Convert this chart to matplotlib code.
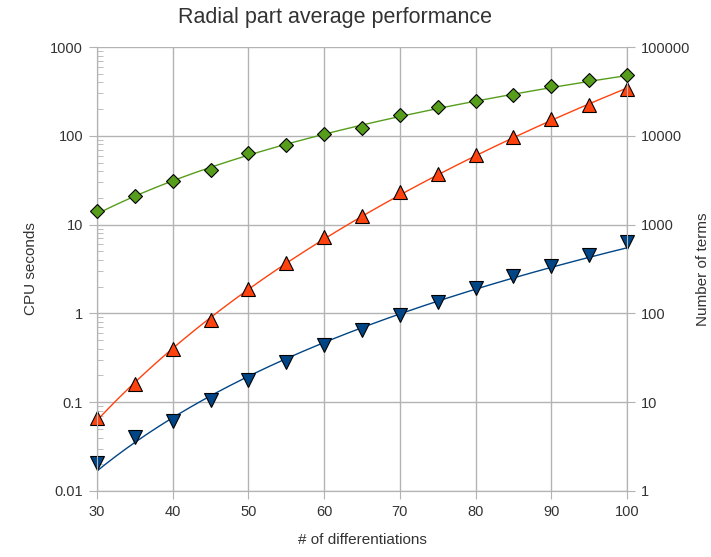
import numpy as np
import matplotlib
matplotlib.use("Agg")
import matplotlib.pyplot as plt
from matplotlib.ticker import LogLocator, FixedLocator, NullLocator, NullFormatter

plt.rcParams['font.family'] = ['Liberation Sans', 'DejaVu Sans']

# differentiations
x = [30, 35, 40, 45, 50, 55, 60, 65, 70, 75, 80, 85, 90, 95, 100]

# CPU seconds (left axis)
cpu_up = [0.067, 0.159, 0.393, 0.834, 1.86, 3.66, 7.17, 12.4, 23.0, 36.8, 60.1, 95.9, 153, 220, 333]
cpu_down = [0.0205, 0.0402, 0.0608, 0.105, 0.176, 0.281, 0.436, 0.644, 0.95, 1.36, 1.91, 2.61, 3.38, 4.50, 6.31]
# number of terms (right axis)
terms = [1410, 2080, 3060, 4080, 6340, 7800, 10400, 12400, 17000, 20900, 24400, 28500, 36000, 42100, 47900]

green = '#579d1c'
orange = '#ff420e'
blue = '#004586'
grid_c = '#b3b3b3'
txt = '#333333'

fig = plt.figure(figsize=(7.11, 5.57), dpi=100)
ax = fig.add_axes([0.1364, 0.1185, 0.7455, 0.7971])
ax2 = ax.twinx()

ax.set_xlim(30, 100)
ax.set_yscale('log')
ax.set_ylim(0.01, 1000)
ax2.set_yscale('log')
ax2.set_ylim(1, 100000)

# trend lines (fit in log-log)
xs = np.linspace(30, 100, 200)
lx = np.log10(x)
def trend(vals, deg):
    p = np.polyfit(lx, np.log10(vals), deg)
    return 10 ** np.polyval(p, np.log10(xs))

ax.plot(xs, trend(cpu_up, 2), color=orange, lw=1, zorder=3)
ax.plot(xs, trend(cpu_down, 1), color=blue, lw=1, zorder=3)
ax2.plot(xs, trend(terms, 1), color=green, lw=1, zorder=3)

ax.plot(x, cpu_up, ls='none', marker='^', ms=10, mfc=orange, mec='black', mew=0.8, zorder=4, clip_on=False)
ax.plot(x, cpu_down, ls='none', marker='v', ms=10, mfc=blue, mec='black', mew=0.8, zorder=4, clip_on=False)
ax2.plot(x, terms, ls='none', marker='D', ms=7.5, mfc=green, mec='black', mew=0.8, zorder=4, clip_on=False)

# grid
ax.set_xticks(range(30, 101, 10))
ax.grid(True, which='major', color=grid_c, lw=1)
ax.set_axisbelow(True)

ax.yaxis.set_major_locator(FixedLocator([0.01, 0.1, 1, 10, 100, 1000]))
ax.set_yticklabels(['0.01', '0.1', '1', '10', '100', '1000'])
ax.yaxis.set_minor_locator(LogLocator(base=10, subs=np.arange(2, 10), numticks=20))
ax.yaxis.set_minor_formatter(NullFormatter())
ax2.yaxis.set_major_locator(FixedLocator([1, 10, 100, 1000, 10000, 100000]))
ax2.set_yticklabels(['1', '10', '100', '1000', '10000', '100000'])
ax2.yaxis.set_minor_locator(NullLocator())

for s in ['left', 'right', 'bottom', 'top']:
    ax.spines[s].set_color(grid_c)
    ax2.spines[s].set_color(grid_c)
ax.spines['top'].set_visible(False)
ax2.spines['top'].set_visible(False)

ax.tick_params(axis='both', which='major', direction='out', length=6, color=grid_c,
               labelcolor=txt, labelsize=10.5, pad=4)
ax.tick_params(axis='y', which='minor', direction='in', length=4, color=grid_c)
ax2.tick_params(axis='y', which='major', direction='out', length=6, color=grid_c,
                labelcolor=txt, labelsize=10.5, pad=4)

ax.set_xlabel('# of differentiations', fontsize=11, color=txt, labelpad=10)
ax.set_ylabel('CPU seconds', fontsize=11, color=txt, labelpad=9)
ax2.set_ylabel('Number of terms', fontsize=11, color=txt, labelpad=4)

fig.text(0.471, 0.969, 'Radial part average performance', fontsize=15.5, color=txt,
         ha='center', va='center')

fig.savefig('out.png', dpi=100)
